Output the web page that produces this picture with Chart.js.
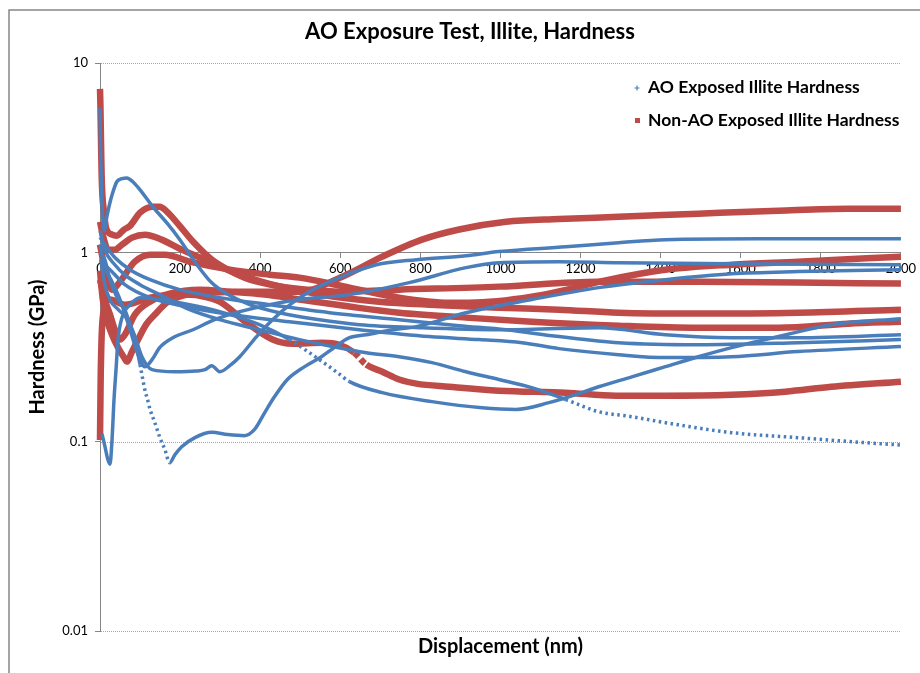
<!DOCTYPE html>
<html>
<head>
<meta charset="utf-8">
<script src="https://cdn.jsdelivr.net/npm/chart.js@4"></script>
<style>
html,body{margin:0;padding:0;background:#fff;}
#wrap{width:920px;height:673px;position:relative;}
</style>
</head>
<body>
<div id="wrap"><canvas id="c" width="920" height="673"></canvas></div>
<script>
// ---- Tick labels ----
const xTickValues = [0,200,400,600,800,1000,1200,1400,1600,1800,2000];
const yTickValues = [0.01,0.1,1,10];

// ---- AO exposed (blue) curves: [displacement nm, hardness GPa] ----
const aoHump = [[0,5.8],[1,4.2],[2,3.0],[4,2.0],[7,1.5],[11,1.3],[17,1.54],[24,1.8],[30,2.01],[42,2.36],[55,2.45],[67,2.47],[82,2.36],[100,2.14],[132,1.74],[167,1.43],[199,1.17],[237,0.89],[279,0.69],[319,0.60],[374,0.53],[448,0.48],[548,0.44],[648,0.415],[797,0.40],[996,0.39],[1245,0.40],[1412,0.367],[1577,0.354],[1743,0.354],[2000,0.367]];
const aoValley = [[2,0.92],[12,0.68],[25,0.56],[45,0.50],[70,0.44],[87,0.36],[105,0.28],[130,0.24],[187,0.234],[240,0.236],[262,0.24],[279,0.252],[299,0.234],[324,0.252],[349,0.281],[391,0.359],[431,0.441],[481,0.542],[523,0.62],[598,0.735],[690,0.86],[790,0.915],[914,0.96],[996,1.01],[1163,1.07],[1295,1.125],[1412,1.167],[1644,1.18],[2000,1.18]];
const aoDip = [[0,1.0],[12,0.915],[25,0.717],[45,0.563],[62,0.498],[75,0.415],[87,0.346],[100,0.255],[112,0.188],[120,0.163],[125,0.148],[137,0.126],[149,0.106],[162,0.091],[174,0.0774],[187,0.0853],[204,0.094],[237,0.105],[279,0.112],[319,0.109],[361,0.1076],[386,0.116],[411,0.142],[436,0.173],[468,0.213],[511,0.249],[553,0.281],[585,0.314],[623,0.354],[665,0.367],[730,0.39],[790,0.405],[914,0.48],[1078,0.563],[1245,0.651],[1412,0.717],[1577,0.77],[1743,0.791],[2000,0.81]];
const aoUpper = [[0,1.1],[10,0.86],[30,0.70],[50,0.563],[75,0.39],[95,0.288],[112,0.249],[130,0.271],[149,0.314],[182,0.354],[232,0.39],[286,0.441],[349,0.486],[423,0.529],[498,0.563],[623,0.598],[772,0.692],[914,0.83],[996,0.882],[1146,0.893],[1295,0.882],[1577,0.87],[2000,0.861]];
const aoLowValley = [[5,0.11],[12,0.095],[20,0.08],[25,0.076],[30,0.102],[35,0.167],[40,0.24],[45,0.346],[55,0.452],[75,0.529],[100,0.576],[149,0.563],[224,0.529],[299,0.486],[398,0.415],[473,0.346],[548,0.271],[593,0.2315],[623,0.2075],[705,0.1815],[829,0.1627],[954,0.151],[1039,0.148],[1121,0.1607],[1203,0.1815],[1245,0.195],[1328,0.22],[1412,0.249],[1494,0.281],[1577,0.314],[1661,0.346],[1743,0.38],[1826,0.415],[2000,0.446]];
const aoFalling = [[0,1.3],[12,1.03],[37,0.86],[62,0.76],[100,0.675],[149,0.598],[224,0.498],[299,0.441],[398,0.39],[498,0.346],[580,0.318],[665,0.295],[747,0.281],[829,0.2615],[914,0.234],[996,0.213],[1078,0.193],[1163,0.167],[1245,0.144],[1328,0.1355],[1412,0.126],[1577,0.1116],[1743,0.105],[1910,0.0988],[2000,0.096]];
const aoMidA = [[0,1.2],[12,1.1],[37,0.94],[75,0.81],[125,0.717],[199,0.635],[299,0.576],[423,0.529],[573,0.48],[747,0.441],[897,0.41],[1014,0.39],[1146,0.359],[1295,0.333],[1494,0.325],[1743,0.333],[2000,0.346]];
const aoMidB = [[0,0.9],[25,0.81],[62,0.675],[125,0.576],[212,0.517],[324,0.469],[473,0.43],[648,0.39],[822,0.359],[947,0.346],[1054,0.333],[1146,0.31],[1295,0.288],[1412,0.278],[1577,0.281],[1743,0.299],[2000,0.318]];

// ---- Non-AO exposed (red) curves ----
const naoPeak = [[0,7.3],[1,6.0],[2,4.5],[3,3.4],[4,2.6],[6,2.0],[9,1.7],[15,1.35],[30,1.24],[42,1.225],[60,1.32],[75,1.38],[100,1.62],[132,1.74],[149,1.74],[167,1.64],[199,1.38],[232,1.14],[279,0.915],[319,0.81],[361,0.735],[403,0.692],[453,0.659],[518,0.635],[598,0.62],[747,0.635],[996,0.659],[1245,0.70],[1494,0.70],[1743,0.692],[2000,0.684]];
const naoRising = [[0,0.8],[7,0.563],[17,0.441],[30,0.367],[45,0.314],[60,0.278],[67,0.265],[80,0.299],[95,0.346],[115,0.415],[137,0.469],[167,0.542],[217,0.598],[281,0.613],[349,0.62],[423,0.62],[498,0.62],[605,0.744],[705,0.949],[804,1.167],[897,1.32],[1014,1.45],[1146,1.50],[1295,1.54],[1494,1.60],[1694,1.66],[1868,1.70],[2000,1.70]];
const naoSecondPeak = [[0,1.45],[10,1.167],[20,1.033],[37,1.033],[55,1.098],[80,1.196],[112,1.24],[154,1.167],[204,1.033],[262,0.915],[336,0.781],[403,0.70],[486,0.635],[585,0.583],[697,0.549],[822,0.529],[996,0.51],[1146,0.498],[1295,0.48],[1494,0.475],[1743,0.48],[2000,0.498]];
const naoFlat = [[0,0.717],[12,0.563],[25,0.469],[37,0.39],[50,0.346],[62,0.367],[87,0.469],[125,0.549],[174,0.605],[249,0.635],[324,0.62],[411,0.598],[498,0.563],[623,0.517],[747,0.48],[914,0.452],[1078,0.43],[1295,0.41],[1494,0.40],[1694,0.40],[1868,0.42],[2000,0.43]];
const naoDrop = [[0,0.102],[0.5,0.13],[1,0.16],[1.5,0.2],[2,0.24],[3,0.3],[5,0.4],[10,0.5],[25,0.563],[62,0.529],[125,0.576],[199,0.598],[249,0.59],[299,0.549],[366,0.425],[431,0.346],[481,0.329],[555,0.333],[598,0.325],[635,0.295],[665,0.255],[705,0.234],[747,0.213],[790,0.2025],[872,0.195],[996,0.186],[1163,0.1815],[1288,0.175],[1412,0.175],[1577,0.177],[1711,0.1837],[1826,0.195],[2000,0.2075]];
const naoDip = [[0,1.1],[15,0.762],[30,0.635],[50,0.70],[87,0.893],[125,0.972],[162,0.972],[224,0.893],[324,0.81],[423,0.762],[498,0.735],[623,0.651],[747,0.576],[872,0.542],[922,0.542],[1078,0.583],[1295,0.735],[1412,0.81],[1577,0.861],[1743,0.893],[2000,0.949]];

const aoCurves = [aoHump, aoValley, aoDip, aoUpper, aoLowValley, aoFalling, aoMidA, aoMidB];
const naoCurves = [naoPeak, naoRising, naoSecondPeak, naoFlat, naoDrop, naoDip];

// style only: displacement ranges where the reference markers are spread out (drawn dotted)
const aoSparse = [[], [], [[95, 180]], [], [[473, 640]], [[1080, 2000]], [], []];
const naoSparse = [[], [], [], [], [[600, 700]], []];

const seriesNames = ['AO Exposed Illite Hardness', 'Non-AO Exposed Illite Hardness'];
const BLUE = '#4a7ebb';
const RED = '#be4b48';
const FONT = 'Lato, "Open Sans", sans-serif';

function makeDataset(curve, name, color, width, sparse, dash) {
  return {
    label: name,
    data: curve.map(p => ({x: p[0], y: p[1]})),
    showLine: true,
    borderColor: color,
    backgroundColor: color,
    borderWidth: width,
    pointRadius: 0,
    pointHoverRadius: 0,
    cubicInterpolationMode: 'monotone',
    fill: false,
    clip: 6,
    segment: {
      borderDash: ctx => sparse.some(r => ctx.p0.parsed.x >= r[0] && ctx.p1.parsed.x <= r[1]) ? dash : undefined
    }
  };
}

const datasets = [
  ...aoCurves.map((c, i) => makeDataset(c, seriesNames[0], BLUE, 3.5, aoSparse[i], [2.5, 3.5])),
  ...naoCurves.map((c, i) => makeDataset(c, seriesNames[1], RED, 6.5, naoSparse[i], [6, 3]))
];

const decorPlugin = {
  id: 'decor',
  beforeDatasetsDraw(chart) {
    const {ctx, chartArea, scales} = chart;
    ctx.save();
    ctx.strokeStyle = '#a6a6a6';
    ctx.lineWidth = 1;
    ctx.setLineDash([1, 1]);
    [10, 0.1, 0.01].forEach(v => {
      const y = Math.round(scales.y.getPixelForValue(v)) + 0.5;
      ctx.beginPath();
      ctx.moveTo(chartArea.left + 1, y);
      ctx.lineTo(chartArea.right, y);
      ctx.stroke();
    });
    ctx.restore();
  },
  afterDraw(chart) {
    const {ctx} = chart;
    ctx.save();
    ctx.strokeStyle = '#868686';
    ctx.lineWidth = 1.5;
    ctx.beginPath();
    ctx.moveTo(9, 673);
    ctx.lineTo(9, 10);
    ctx.lineTo(920, 10);
    ctx.stroke();
    ctx.font = 'bold 17.5px ' + FONT;
    ctx.fillStyle = '#000';
    ctx.textBaseline = 'middle';
    ctx.textAlign = 'left';
    ctx.strokeStyle = BLUE;
    ctx.lineWidth = 1.2;
    ctx.beginPath();
    ctx.moveTo(634.5, 88); ctx.lineTo(639.5, 88);
    ctx.moveTo(637, 85.5); ctx.lineTo(637, 90.5);
    ctx.stroke();
    ctx.fillText(seriesNames[0], 648, 87);
    ctx.fillStyle = RED;
    ctx.fillRect(635, 118, 5, 5);
    ctx.fillStyle = '#000';
    ctx.fillText(seriesNames[1], 648, 120);
    ctx.restore();
  }
};

new Chart(document.getElementById('c'), {
  type: 'scatter',
  data: { datasets },
  options: {
    responsive: false,
    animation: false,
    devicePixelRatio: 1,
    layout: { padding: { left: 37, right: 17, top: 0, bottom: 14 } },
    plugins: {
      legend: { display: false },
      tooltip: { enabled: false },
      title: {
        display: true,
        text: 'AO Exposure Test, Illite, Hardness',
        color: '#000',
        font: { family: FONT, size: 22, weight: 'bold' },
        padding: { top: 19, bottom: 17.6 }
      }
    },
    scales: {
      x: {
        type: 'linear',
        position: { y: 1 },
        min: 0, max: 2000,
        afterBuildTicks: s => { s.ticks = xTickValues.map(v => ({value: v})); },
        ticks: { color: '#000', font: { family: FONT, size: 13 }, padding: 4, maxRotation: 0, autoSkip: false, callback: v => String(v) },
        grid: { display: true, drawOnChartArea: false, drawTicks: true, tickLength: 5, color: '#868686' },
        border: { display: true, color: '#868686', width: 1 }
      },
      x2: {
        type: 'linear',
        position: 'bottom',
        min: 0, max: 1,
        ticks: { display: false },
        grid: { display: false, drawTicks: false },
        border: { display: false },
        title: {
          display: true,
          text: 'Displacement (nm)',
          color: '#000',
          font: { family: FONT, size: 20, weight: 'bold' },
          padding: { top: 4, bottom: 0 }
        }
      },
      y: {
        type: 'logarithmic',
        position: 'left',
        min: 0.01, max: 10,
        afterBuildTicks: s => { s.ticks = yTickValues.map(v => ({value: v})); },
        afterFit: s => { s.width = 63; },
        ticks: { color: '#000', font: { family: FONT, size: 13 }, padding: 7, callback: v => String(v) },
        grid: { display: true, drawOnChartArea: false, drawTicks: true, tickLength: 5, color: '#868686' },
        border: { display: true, color: '#868686', width: 1 },
        title: {
          display: true,
          text: 'Hardness (GPa)',
          color: '#000',
          font: { family: FONT, size: 20, weight: 'bold' },
          padding: { top: -11, bottom: 0 }
        }
      }
    }
  },
  plugins: [decorPlugin]
});
</script>
</body>
</html>
